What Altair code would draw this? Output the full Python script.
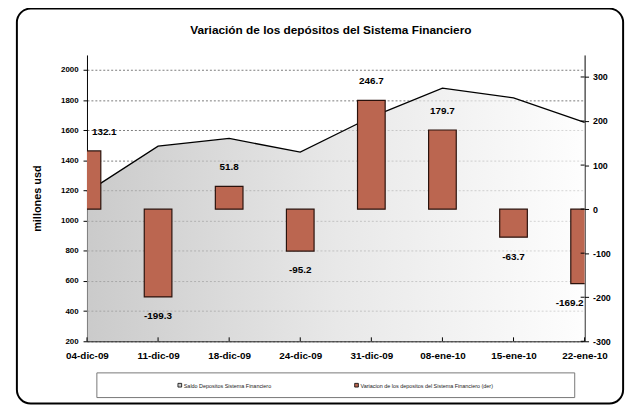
import altair as alt
import pandas as pd

# ---- data ----
fechas = ["04-dic-09", "11-dic-09", "18-dic-09", "24-dic-09",
          "31-dic-09", "08-ene-10", "15-ene-10", "22-ene-10"]
saldo = [1190, 1495, 1546, 1455, 1688, 1880, 1815, 1652]
variacion = [132.1, -199.3, 51.8, -95.2, 246.7, 179.7, -63.7, -169.2]
left_ticks = [200, 400, 600, 800, 1000, 1200, 1400, 1600, 1800, 2000]
right_ticks = [-300, -200, -100, 0, 100, 200, 300]

titulo = "Variación de los depósitos del Sistema Financiero"
ytitulo = "millones usd"
leyenda1 = "Saldo Depositos Sistema Financiero"
leyenda2 = "Variacion de los depositos del Sistema Financiero (der)"

df = pd.DataFrame({"fecha": fechas, "saldo": saldo, "variacion": variacion})
rt = pd.DataFrame({"v": right_ticks})
one = pd.DataFrame({"k": [0]})

FONT = "Liberation Sans"

x_enc = alt.X(
    "fecha:N", sort=fechas,
    scale=alt.Scale(type="point", padding=0),
    axis=alt.Axis(title=None, labelAngle=0, labelFont=FONT, labelFontSize=10,
                  labelFontWeight="bold", labelColor="black", tickSize=0,
                  domainColor="black", labelPadding=9),
)

left_axis = alt.Axis(values=left_ticks, title=ytitulo, grid=True, gridDash=[2, 2],
                     gridColor="#222", gridWidth=0.6, tickSize=4, tickColor="black",
                     domainColor="black", labelFont=FONT, labelFontSize=8,
                     labelFontWeight="bold", labelColor="black", labelPadding=5,
                     labelExpr="'' + datum.value",
                     titleFont=FONT, titleFontSize=11, titleFontWeight="bold",
                     titleColor="black", titlePadding=18)
left_scale = alt.Scale(domain=[200, 2100], nice=False, zero=False)

right_axis = alt.Axis(orient="right", values=right_ticks, title=None, grid=False,
                      tickSize=4, tickColor="black", domainColor="black",
                      labelFont=FONT, labelFontSize=9, labelFontWeight="bold",
                      labelColor="black", labelPadding=4,
                      labelExpr="'' + datum.value")
right_scale = alt.Scale(domain=[-300, 350], nice=False, zero=False)

base = alt.Chart(df)

area = base.mark_area(
    fill=alt.Gradient(gradient="linear", x1=0, x2=1, y1=0, y2=0,
                      stops=[alt.GradientStop(color="#b4b4b4", offset=0),
                             alt.GradientStop(color="#dedede", offset=0.5),
                             alt.GradientStop(color="#fdfdfd", offset=1)]),
    line={"color": "black", "strokeWidth": 1.3},
).encode(
    x=x_enc,
    y=alt.Y("saldo:Q", scale=left_scale, axis=left_axis),
    y2=alt.datum(200),
)

left = alt.layer(area)

bars = base.mark_bar(size=28, clip=True, color="#bb6650", stroke="#2a120c",
                     strokeWidth=1.2).encode(
    x=x_enc,
    y=alt.Y("variacion:Q", scale=right_scale, axis=right_axis),
)

lab_base = base.transform_calculate(
    lab="datum.variacion + (datum.variacion > 0 ? 44 : -44)",
    txt="'' + datum.variacion",
)
text_kw = dict(font=FONT, fontSize=10, fontWeight="bold", color="black", baseline="middle")
lab_enc = dict(x=x_enc, y=alt.Y("lab:Q", scale=right_scale, axis=right_axis), text="txt:N")

labels_mid = lab_base.transform_filter(
    f"datum.fecha != '{fechas[0]}' && datum.fecha != '{fechas[-1]}'"
).mark_text(align="center", **text_kw).encode(**lab_enc)
labels_first = lab_base.transform_filter(
    f"datum.fecha == '{fechas[0]}'"
).mark_text(align="left", dx=5, **text_kw).encode(**lab_enc)
labels_last = lab_base.transform_filter(
    f"datum.fecha == '{fechas[-1]}'"
).mark_text(align="right", dx=-1, **text_kw).encode(**lab_enc)

rticks = alt.Chart(rt).mark_rule(color="black", strokeWidth=1).encode(
    y=alt.Y("v:Q", scale=right_scale, axis=right_axis),
    x=alt.value(500), x2=alt.value(504),
)

xticks = base.mark_rule(color="black", strokeWidth=1).encode(
    x=x_enc, y=alt.value(286), y2=alt.value(290),
)

right = alt.layer(bars, labels_mid, labels_first, labels_last, rticks, xticks)

# ---- decorations: title, frame and legend ----
title_txt = alt.Chart(one).mark_text(text=titulo, font=FONT, fontSize=12,
                                     fontWeight="bold", color="black",
                                     align="center", baseline="middle").encode(
    x=alt.value(247), y=alt.value(-25))

frame = alt.Chart(one).mark_rect(fill="transparent", stroke="black", strokeWidth=2,
                                 cornerRadius=14).encode(
    x=alt.value(-71), x2=alt.value(543), y=alt.value(-47), y2=alt.value(353))

leg_box = alt.Chart(one).mark_rect(fill="white", stroke="#777", strokeWidth=1).encode(
    x=alt.value(10), x2=alt.value(494), y=alt.value(322), y2=alt.value(347))

leg_sq1 = alt.Chart(one).mark_square(size=14, fill="#c8c8c8", stroke="black",
                                     strokeWidth=0.8, opacity=1).encode(
    x=alt.value(94), y=alt.value(334.5))
leg_sq2 = alt.Chart(one).mark_square(size=14, fill="#bb6650", stroke="black",
                                     strokeWidth=0.8, opacity=1).encode(
    x=alt.value(273), y=alt.value(334.5))
leg_t1 = alt.Chart(one).mark_text(text=leyenda1, font=FONT, fontSize=5.5, align="left",
                                  baseline="middle", color="#222").encode(
    x=alt.value(98), y=alt.value(335))
leg_t2 = alt.Chart(one).mark_text(text=leyenda2, font=FONT, fontSize=5.5, align="left",
                                  baseline="middle", color="#222").encode(
    x=alt.value(277), y=alt.value(335))

chart = alt.layer(
    left, right, title_txt, frame, leg_box, leg_sq1, leg_sq2, leg_t1, leg_t2
).resolve_scale(y="independent").properties(
    width=504, height=290,
    padding={"left": 80, "top": 45, "right": 48, "bottom": 64},
    autosize=alt.AutoSizeParams(type="none"),
    background="white",
).configure_view(stroke=None)

chart.save("out.html", embed_options={"renderer": "svg", "actions": False})
